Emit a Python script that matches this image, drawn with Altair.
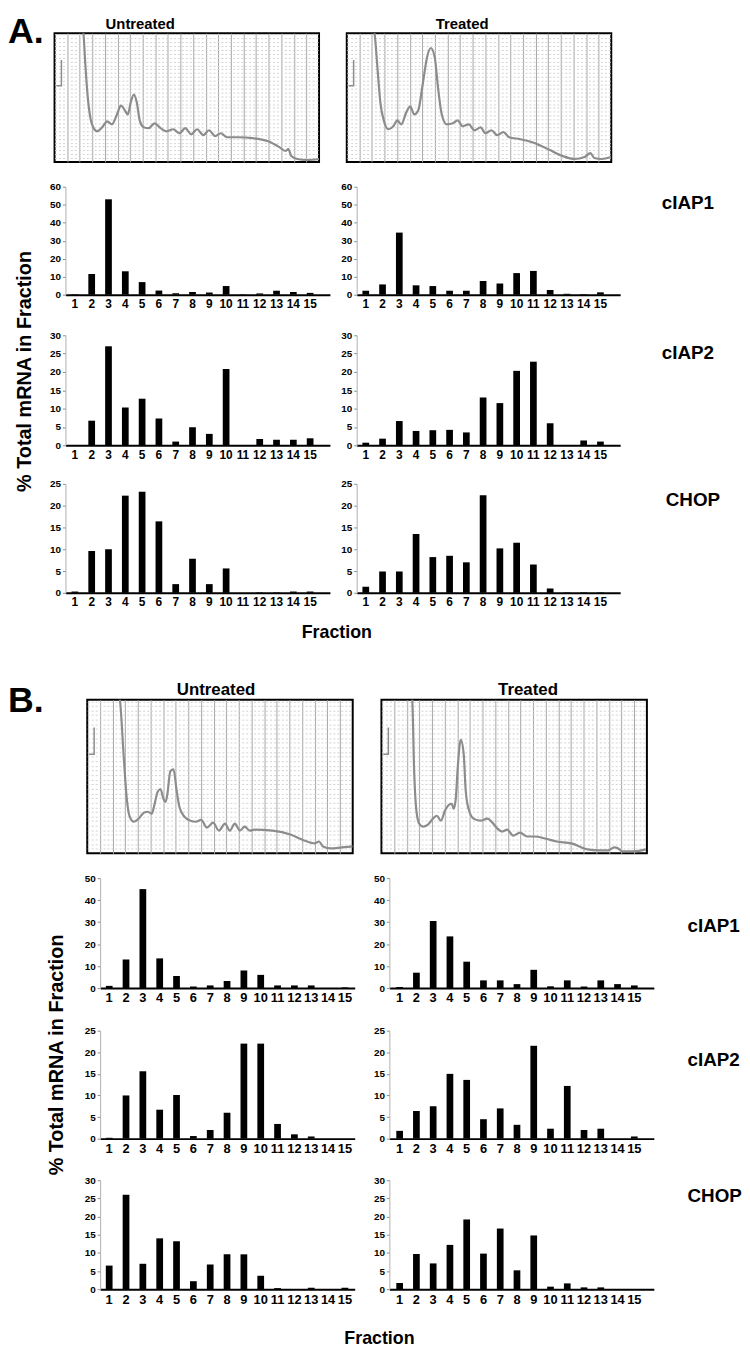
import altair as alt
import pandas as pd

FONT = "Liberation Sans"
FRACTIONS = list(range(1, 16))
YTITLE = "% Total mRNA in Fraction"

# ---- Panel A bar values (% of total mRNA per fraction) ----
A_UNT_CIAP1 = [0.3, 11.5, 53.0, 13.0, 7.0, 2.3, 0.8, 1.5, 1.2, 4.8, 0.2, 0.7, 2.2, 1.5, 1.0]
A_TRT_CIAP1 = [2.2, 5.7, 34.5, 5.2, 4.8, 2.2, 2.2, 7.6, 6.2, 12.0, 13.2, 2.6, 0.5, 0.3, 1.3]
A_UNT_CIAP2 = [0.0, 6.7, 27.0, 10.3, 12.7, 7.3, 1.0, 4.9, 3.1, 20.8, 0.0, 1.7, 1.5, 1.5, 1.9]
A_TRT_CIAP2 = [0.7, 1.8, 6.6, 3.9, 4.1, 4.2, 3.5, 13.0, 11.5, 20.3, 22.8, 6.0, 0.0, 1.3, 1.0]
A_UNT_CHOP = [0.3, 9.6, 10.0, 22.3, 23.2, 16.4, 2.0, 7.8, 2.0, 5.6, 0.0, 0.1, 0.1, 0.3, 0.3]
A_TRT_CHOP = [1.4, 4.9, 4.9, 13.5, 8.2, 8.5, 7.0, 22.4, 10.2, 11.5, 6.5, 1.0, 0.1, 0.1, 0.1]

# ---- Panel B bar values ----
B_UNT_CIAP1 = [1.0, 13.0, 45.0, 13.5, 5.5, 0.7, 1.2, 3.2, 8.0, 6.0, 1.2, 1.2, 1.2, 0.0, 0.3]
B_TRT_CIAP1 = [0.5, 7.0, 30.5, 23.5, 12.0, 3.5, 3.5, 1.8, 8.3, 0.8, 3.5, 0.7, 3.5, 1.8, 1.2]
B_UNT_CIAP2 = [0.2, 10.0, 15.6, 6.7, 10.1, 0.6, 2.0, 6.0, 22.0, 22.0, 3.4, 1.0, 0.5, 0.0, 0.0]
B_TRT_CIAP2 = [1.8, 6.4, 7.5, 15.0, 13.6, 4.5, 7.0, 3.2, 21.5, 2.3, 12.2, 2.0, 2.3, 0.0, 0.5]
B_UNT_CHOP = [6.5, 26.0, 7.0, 14.0, 13.2, 2.2, 6.8, 9.6, 9.6, 3.7, 0.3, 0.0, 0.4, 0.0, 0.4]
B_TRT_CHOP = [1.7, 9.7, 7.1, 12.2, 19.2, 9.8, 16.7, 5.2, 14.8, 0.7, 1.6, 0.5, 0.5, 0.0, 0.0]

# ---- Polysome profile traces (sweep position %, absorbance % of box) ----
A_UNT_TRACE_X = [9.7, 10.9, 11.6, 12.4, 13.5, 14.6, 16.1, 18.0, 19.9, 21.7, 23.6, 25.1, 26.6, 27.7,
                 28.8, 30.0, 31.1, 32.2, 33.7, 35.6, 37.8, 40.1, 42.3, 44.9, 47.2, 49.4, 51.7, 53.9,
                 56.2, 58.4, 60.7, 62.9, 65.2, 69.3, 74.9, 80.5, 85.0, 87.3, 88.4, 89.5, 91.8, 95.5, 100]
A_UNT_TRACE_Y = [107.7, 100, 76.9, 53.8, 34.6, 26.9, 23.8, 26.9, 31.5, 29.2, 36.9, 43.8, 40.0, 36.9,
                 46.2, 52.3, 46.2, 32.3, 26.9, 26.2, 30.0, 26.2, 23.8, 25.4, 22.3, 26.2, 21.5, 25.4,
                 20.8, 24.6, 20.0, 22.3, 19.2, 19.2, 18.5, 16.2, 11.5, 8.5, 10.0, 4.6, 2.3, 1.5, 2.3]
A_TRT_TRACE_X = [9.4, 10.5, 11.6, 12.7, 14.2, 15.7, 17.6, 19.1, 20.6, 22.5, 24.0, 25.5, 27.0, 28.8,
                 30.3, 31.8, 33.3, 34.5, 36.0, 37.8, 40.1, 41.9, 43.8, 46.1, 48.3, 50.6, 52.4, 54.7,
                 56.9, 59.2, 61.4, 65.5, 71.2, 76.8, 81.6, 86.1, 89.9, 92.1, 93.6, 96.3, 100]
A_TRT_TRACE_Y = [107.7, 100, 73.1, 46.2, 30.8, 25.4, 27.7, 32.3, 29.2, 38.5, 43.1, 36.9, 40.0, 61.5,
                 80.8, 88.5, 80.8, 57.7, 36.2, 29.2, 30.0, 32.3, 27.7, 29.2, 24.6, 26.9, 22.3, 24.6,
                 20.8, 23.1, 19.2, 17.7, 14.6, 9.2, 4.6, 2.3, 3.8, 6.9, 3.1, 2.3, 3.8]
B_UNT_TRACE_X = [11.2, 12.3, 13.8, 14.9, 16.0, 17.5, 19.4, 21.3, 22.8, 24.3, 25.4, 26.5, 27.6, 28.7,
                 29.5, 30.2, 31.3, 32.5, 33.6, 34.7, 36.6, 38.8, 41.0, 42.9, 45.1, 47.4, 49.6, 51.9,
                 53.7, 55.6, 57.5, 59.3, 61.2, 63.1, 69.8, 76.5, 81.7, 85.8, 87.3, 88.8, 91.8, 95.9, 100]
B_UNT_TRACE_Y = [106.5, 100, 61.3, 35.5, 23.9, 20.6, 22.6, 26.5, 27.1, 25.8, 32.3, 40.0, 41.9, 35.5,
                 33.5, 38.7, 53.5, 54.8, 41.9, 30.3, 23.9, 21.3, 20.6, 21.9, 16.8, 20.0, 14.8, 19.4,
                 14.8, 19.4, 14.8, 17.4, 14.8, 15.5, 14.8, 12.3, 8.4, 6.5, 7.7, 4.5, 3.2, 3.9, 4.5]
B_TRT_TRACE_X = [10.8, 11.6, 12.3, 13.1, 14.2, 15.7, 17.5, 19.4, 20.9, 22.4, 23.9, 25.4, 26.5, 27.2,
                 28.0, 28.7, 29.9, 31.0, 31.7, 32.8, 34.7, 37.3, 39.9, 41.8, 43.7, 45.5, 47.4, 49.6,
                 52.2, 54.9, 57.8, 61.6, 66.0, 71.6, 77.6, 82.1, 85.4, 87.7, 89.2, 90.7, 95.1, 99.6]
B_TRT_TRACE_Y = [106.5, 100, 54.8, 29.0, 19.4, 17.4, 18.7, 22.6, 24.5, 21.3, 27.7, 31.6, 32.3, 29.0,
                 35.5, 54.8, 74.0, 64.5, 41.9, 29.0, 22.6, 21.3, 22.6, 20.0, 16.1, 14.2, 15.5, 11.6,
                 13.5, 11.0, 11.0, 9.7, 7.7, 6.5, 2.6, 1.9, 1.9, 3.9, 3.2, 1.3, 1.3, 2.6]
A_HOOK_X = [0.7, 2.6, 2.6]
A_HOOK_Y = [59.2, 59.2, 79.2]
B_HOOK_X = [0.7, 2.6, 2.6]
B_HOOK_Y = [64.5, 64.5, 81.9]

SPACER_DF = pd.DataFrame({"s": [0]})
VGRID = [round(i * 100 / 21, 3) for i in range(1, 21)]
HGRID = list(range(3, 100, 3))
TRACE_COLOR = "#8c8c8c"


def ttl(text, size, yb, anchor="start", dx=0):
    """Title drawn inside the view: baseline at yb px below the view top."""
    align = {"start": "left", "middle": "center", "end": "right"}[anchor]
    return alt.TitleParams(text=text, orient="top", anchor=anchor, align=align,
                           baseline="alphabetic", offset=-(yb + size), dx=dx, fontSize=size,
                           font=FONT, fontWeight="bold", color="black")


def spacer(w, h, title=None):
    c = alt.Chart(SPACER_DF).mark_text(text="")
    if title is not None:
        return c.properties(width=w, height=h, title=title)
    return c.properties(width=w, height=h)


def left_col(letter, letter_yb, w, h, tx, ty):
    axis = alt.Axis(title=YTITLE, labels=False, ticks=False, domain=False, grid=False,
                    titleX=tx, titleY=ty, titleAngle=270, titleAlign="center",
                    titleBaseline="middle", titleFont=FONT, titleFontSize=20,
                    titleFontWeight="bold", titleColor="black")
    return alt.Chart(SPACER_DF).mark_text(text="").encode(
        y=alt.Y("s:Q", axis=axis)
    ).properties(width=w, height=h, title=ttl(letter, 36, letter_yb))


def bar_panel(values, ymax, ystep, w, h, po, al, xfs=12):
    df = pd.DataFrame({"fraction": FRACTIONS, "pct": values})
    return alt.Chart(df).mark_bar(color="black").encode(
        x=alt.X("fraction:O",
                scale=alt.Scale(paddingInner=0.6, paddingOuter=po, align=al),
                axis=alt.Axis(labelAngle=0, ticks=False, domainColor="black", domainWidth=2,
                              labelFont=FONT, labelFontSize=xfs, labelFontWeight="bold",
                              labelColor="black", labelPadding=4, title=None)),
        y=alt.Y("pct:Q", scale=alt.Scale(domain=[0, ymax], nice=False),
                axis=alt.Axis(values=list(range(0, ymax + 1, ystep)), grid=False,
                              domainColor="#b0b0b0", domainWidth=1, tickColor="#8c8c8c",
                              tickSize=3, tickWidth=1, labelFont=FONT, labelFontSize=10,
                              labelFontWeight="bold", labelColor="black", labelPadding=2,
                              title=None)),
    ).properties(width=w, height=h)


def profile_panel(tx, ty, hx, hy, w, h):
    trace = pd.DataFrame({"x": tx, "y": ty})
    hook = pd.DataFrame({"x": hx, "y": hy, "i": list(range(len(hx)))})
    xs = alt.X("x:Q", scale=alt.Scale(domain=[0, 100], nice=False, zero=False),
               axis=alt.Axis(values=VGRID, grid=True, gridColor="#a6a6a6", gridWidth=1,
                             labels=False, ticks=False, domain=False, title=None))
    ys = alt.Y("y:Q", scale=alt.Scale(domain=[0, 100], nice=False, zero=False),
               axis=alt.Axis(values=HGRID, grid=True, gridColor="#d2d2d2", gridWidth=1,
                             gridDash=[2, 2], labels=False, ticks=False, domain=False,
                             title=None))
    line = alt.Chart(trace).mark_line(clip=True, interpolate="monotone", color=TRACE_COLOR,
                                      strokeWidth=2.2).encode(x=xs, y=ys)
    hk = alt.Chart(hook).mark_line(clip=True, color=TRACE_COLOR, strokeWidth=1.5).encode(
        x=xs, y=ys, order="i:Q")
    return alt.layer(line, hk).properties(
        width=w, height=h, view=alt.ViewBackground(stroke="black", strokeWidth=2))


def hrow(*cells):
    return alt.hconcat(*cells, spacing=0, bounds="flush")


def lab(text, w, h, yb):
    return spacer(w, h, ttl(text, 19, yb))


# ---------------- Section A ----------------
stack_a = alt.vconcat(
    hrow(spacer(7, 18), spacer(267, 18, ttl("Untreated", 15, 15, anchor="middle", dx=-47)),
         spacer(28, 18), spacer(267, 18, ttl("Treated", 15, 15, anchor="middle", dx=-17))),
    hrow(spacer(7, 150),
         profile_panel(A_UNT_TRACE_X, A_UNT_TRACE_Y, A_HOOK_X, A_HOOK_Y, 267, 130),
         spacer(28, 150),
         profile_panel(A_TRT_TRACE_X, A_TRT_TRACE_Y, A_HOOK_X, A_HOOK_Y, 267, 130)),
    hrow(spacer(18, 145), bar_panel(A_UNT_CIAP1, 60, 10, 267, 109, 0.67, 0.27),
         spacer(27, 145), bar_panel(A_TRT_CIAP1, 60, 10, 266, 109, 0.66, 0.26),
         spacer(42, 145), lab("cIAP1", 60, 145, 22)),
    hrow(spacer(18, 145), bar_panel(A_UNT_CIAP2, 30, 5, 267, 111, 0.67, 0.27),
         spacer(27, 145), bar_panel(A_TRT_CIAP2, 30, 5, 266, 111, 0.66, 0.26),
         spacer(42, 145), lab("cIAP2", 60, 145, 24)),
    hrow(spacer(18, 135), bar_panel(A_UNT_CHOP, 25, 5, 267, 110, 0.67, 0.27),
         spacer(27, 135), bar_panel(A_TRT_CHOP, 25, 5, 266, 110, 0.66, 0.26),
         spacer(46, 135), lab("CHOP", 60, 135, 22)),
    hrow(spacer(260, 43), spacer(64, 43, ttl("Fraction", 18, 21, anchor="middle"))),
    spacing=0)
section_a = alt.hconcat(left_col("A.", 29, 40, 652, 17, 360), stack_a, spacing=0)

# ---------------- Section B ----------------
stack_b = alt.vconcat(
    hrow(spacer(10, 39), spacer(268, 39, ttl("Untreated", 17, 35, anchor="middle", dx=-4)),
         spacer(29, 39), spacer(268, 39, ttl("Treated", 17, 35, anchor="middle", dx=14))),
    hrow(spacer(10, 175),
         profile_panel(B_UNT_TRACE_X, B_UNT_TRACE_Y, B_HOOK_X, B_HOOK_Y, 268, 155),
         spacer(29, 175),
         profile_panel(B_TRT_TRACE_X, B_TRT_TRACE_Y, B_HOOK_X, B_HOOK_Y, 268, 155)),
    hrow(spacer(23, 149), bar_panel(B_UNT_CIAP1, 50, 10, 257, 111, 0.36, 0.47, 13),
         spacer(35, 149), bar_panel(B_TRT_CIAP1, 50, 10, 267, 111, 0.69, 0.30, 13),
         spacer(34, 149), lab("cIAP1", 50, 149, 54)),
    hrow(spacer(23, 146), bar_panel(B_UNT_CIAP2, 25, 5, 257, 109, 0.36, 0.47, 13),
         spacer(35, 146), bar_panel(B_TRT_CIAP2, 25, 5, 267, 109, 0.69, 0.30, 13),
         spacer(34, 146), lab("cIAP2", 50, 146, 36)),
    hrow(spacer(23, 140), bar_panel(B_UNT_CHOP, 30, 5, 257, 110, 0.36, 0.47, 13),
         spacer(35, 140), bar_panel(B_TRT_CHOP, 30, 5, 267, 110, 0.69, 0.30, 13),
         spacer(34, 140), lab("CHOP", 50, 140, 22)),
    hrow(spacer(273, 29), spacer(64, 29, ttl("Fraction", 18, 25, anchor="middle"))),
    spacing=0)
section_b = alt.hconcat(left_col("B.", 52, 70, 688, 49, 398), stack_b, spacing=0)

chart = alt.vconcat(section_a, section_b, spacing=0).properties(
    padding={"left": 0, "top": 0, "right": 0, "bottom": 0}
).configure(font=FONT).configure_view(stroke=None)

chart.save("out.html", embed_options={"renderer": "svg", "actions": False})
